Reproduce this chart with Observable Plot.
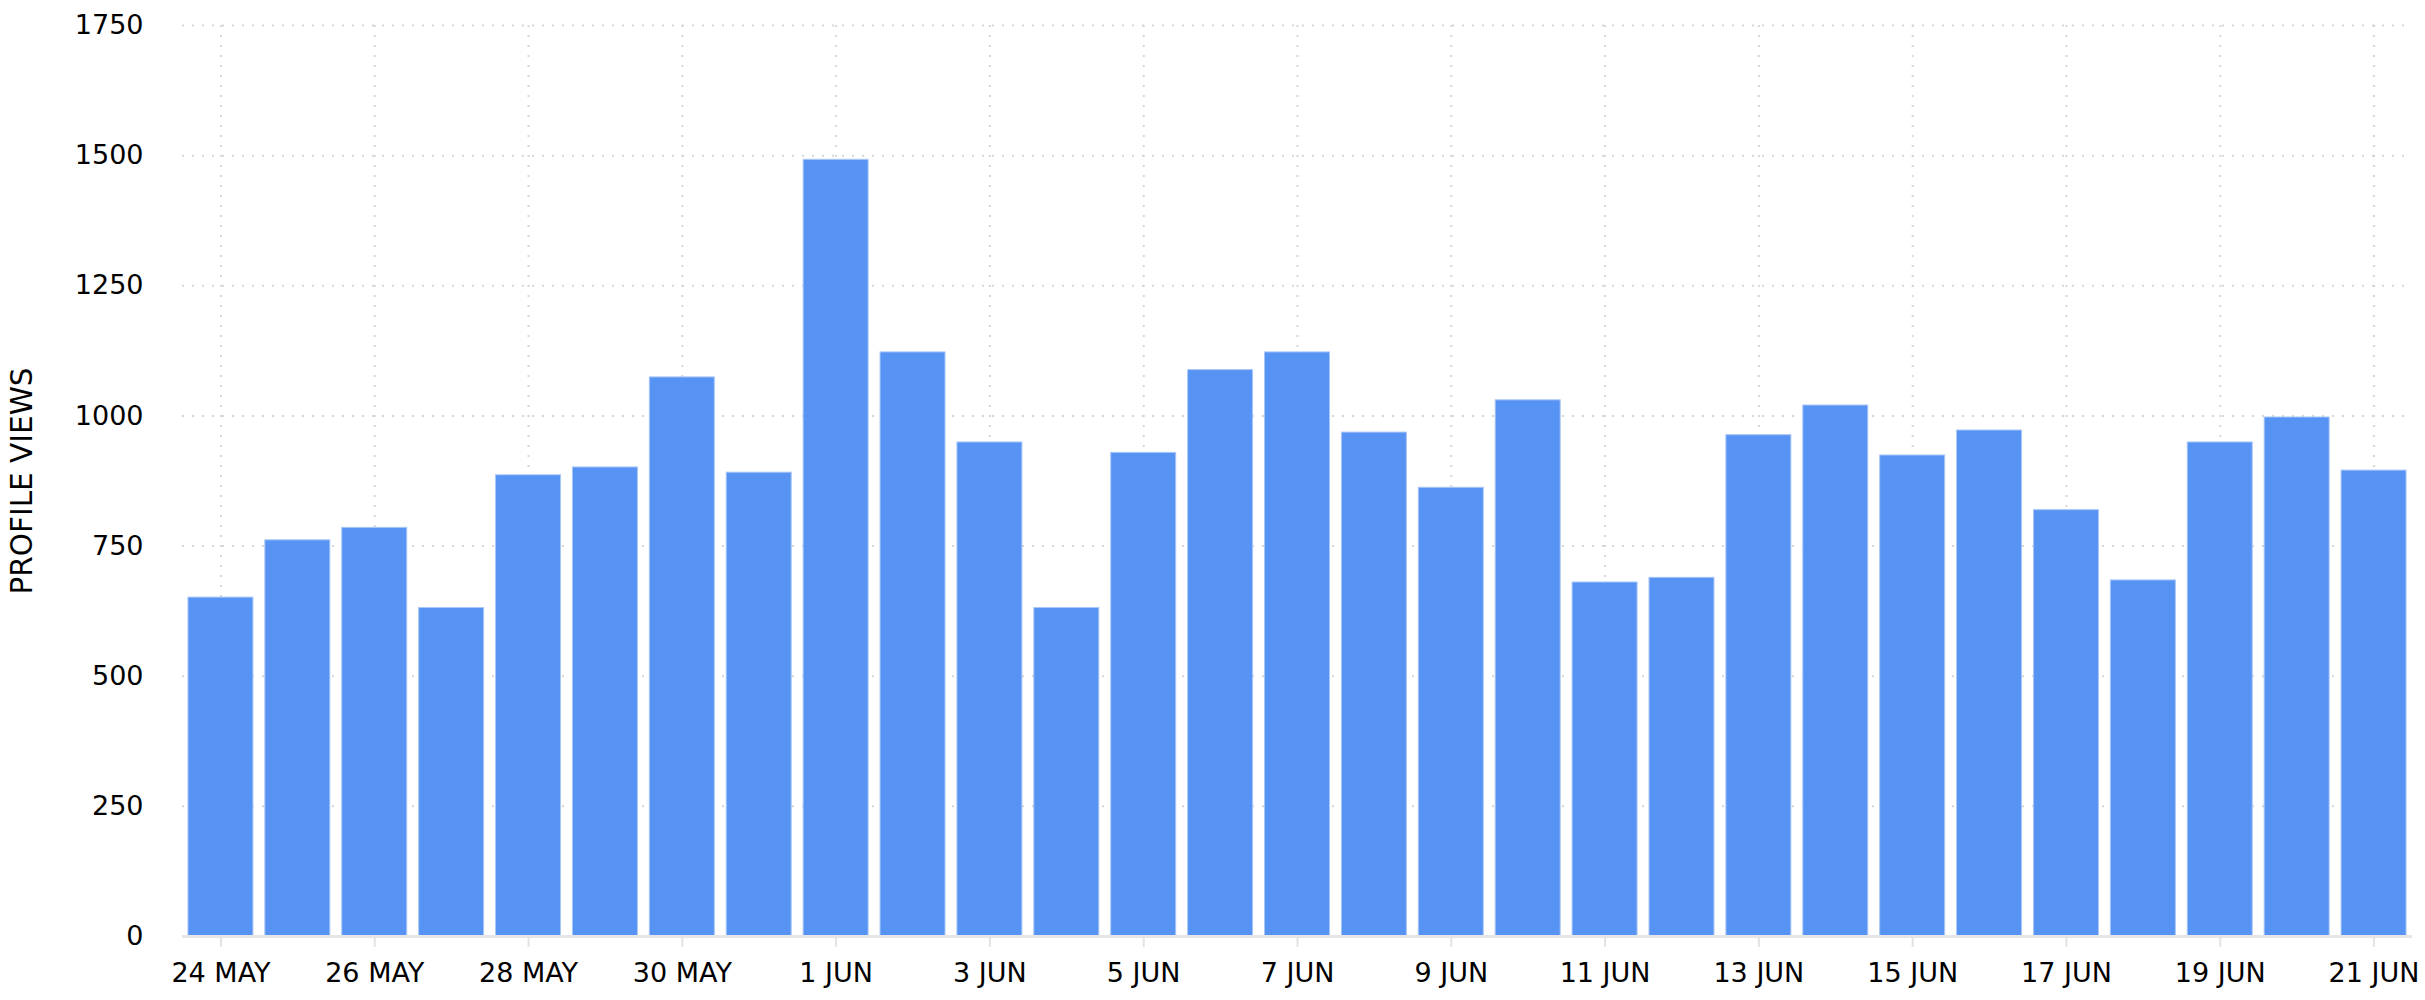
<!DOCTYPE html>
<html>
<head>
<meta charset="utf-8">
<script src="https://cdn.jsdelivr.net/npm/d3@7"></script>
<script src="https://cdn.jsdelivr.net/npm/@observablehq/plot@0.6"></script>
<style>
  html, body { margin: 0; padding: 0; background: #fff; }
</style>
</head>
<body>
<div id="chart"></div>
<script>
const days = [
  "24 MAY","25 MAY","26 MAY","27 MAY","28 MAY","29 MAY","30 MAY","31 MAY",
  "1 JUN","2 JUN","3 JUN","4 JUN","5 JUN","6 JUN","7 JUN","8 JUN","9 JUN","10 JUN",
  "11 JUN","12 JUN","13 JUN","14 JUN","15 JUN","16 JUN","17 JUN","18 JUN","19 JUN","20 JUN","21 JUN"
];
const views = [
  651, 761, 785, 631, 886, 901, 1074, 891,
  1492, 1122, 949, 631, 929, 1088, 1122, 968, 862, 1030,
  680, 689, 963, 1020, 924, 972, 819, 684, 949, 997, 895
];
const yTicks = [0, 250, 500, 750, 1000, 1250, 1500, 1750];
const xTicks = days.filter((d, i) => i % 2 === 0);
const yTitle = "PROFILE VIEWS";

const data = days.map((d, i) => ({day: d, views: views[i]}));

const chart = Plot.plot({
  width: 2425,
  height: 1000,
  marginTop: 25,
  marginBottom: 64,
  marginLeft: 182,
  marginRight: 13,
  style: {fontFamily: "DejaVu Sans", fontSize: "27px", color: "#000", background: "#fff"},
  x: {type: "band", domain: days, paddingInner: 0.155, paddingOuter: 0.0775, round: false},
  y: {domain: [0, 1750]},
  marks: [
    Plot.gridY(yTicks, {stroke: "#d6d6d6", strokeOpacity: 1, strokeWidth: 2, strokeDasharray: "2,8"}),
    Plot.gridX(xTicks, {stroke: "#d6d6d6", strokeOpacity: 1, strokeWidth: 2, strokeDasharray: "2,8"}),
    Plot.barY(data, {x: "day", y: "views", fill: "#5793f3", stroke: "#a8c6f8", strokeWidth: 1}),
    Plot.ruleY([0], {stroke: "#e6e6e6", strokeWidth: 3}),
    Plot.axisX(xTicks, {tickSize: 11, tickPadding: 15, stroke: "#e3e3e3", strokeWidth: 2, label: null, fontSize: 27, fill: "#000"}),
    Plot.axisY(yTicks, {tickSize: 0, tickPadding: 39, label: null, fontSize: 27, fill: "#000", tickFormat: d => String(d)}),
    Plot.text([yTitle], {frameAnchor: "left", textAnchor: "middle", rotate: -90, dx: -160, fontSize: 29.5, fill: "#000"})
  ]
});
document.getElementById("chart").appendChild(chart);
</script>
</body>
</html>
